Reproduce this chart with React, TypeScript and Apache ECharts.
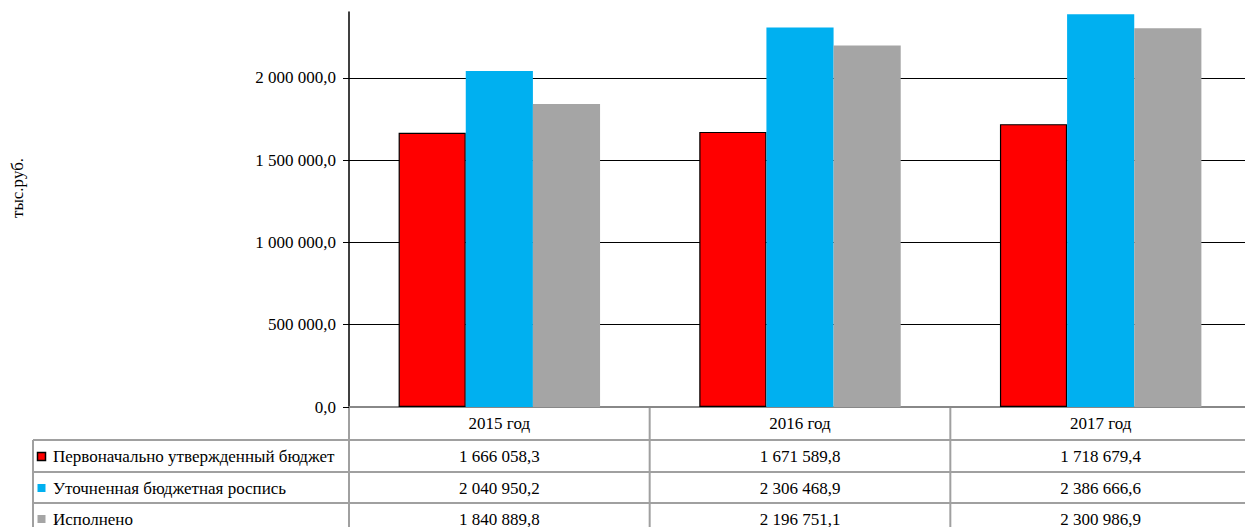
import React, { useEffect, useRef } from "react";
import * as echarts from "echarts";

const categories = ["2015 год", "2016 год", "2017 год"];
const seriesNames = [
  "Первоначально утвержденный бюджет",
  "Уточненная бюджетная роспись",
  "Исполнено",
];
const initialBudget = [1666058.3, 1671589.8, 1718679.4];
const refinedBudget = [2040950.2, 2306468.9, 2386666.6];
const executed = [1840889.8, 2196751.1, 2300986.9];
const yTicks = { min: 0, max: 2400000, interval: 500000 };
const yName = "тыс.руб.";

const seriesData = [initialBudget, refinedBudget, executed];
const colors = ["#FF0000", "#00B0F0", "#A5A5A5"];

const FONT = "Liberation Serif";
const FS = 17;

function fmt(v: number): string {
  const [i, d] = v.toFixed(1).split(".");
  return i.replace(/\B(?=(\d{3})+(?!\d))/g, " ") + "," + d;
}

export default function App() {
  const ref = useRef<HTMLDivElement>(null);
  useEffect(() => {
    if (!ref.current) return;
    const el = ref.current;

    const styleEl = document.createElement("style");
    styleEl.textContent =
      '#chart-root svg text { font-family: "Liberation Serif", "Times New Roman", serif !important; }';
    document.head.appendChild(styleEl);

    const chart = echarts.init(el, null, { renderer: "svg" });
    const option: any = {
      animation: false,
      grid: {
        left: 349,
        right: -6,
        top: 12,
        bottom: 120,
        containLabel: false,
        outerBoundsMode: "none",
      },
      xAxis: {
        type: "category",
        data: categories,
        axisLine: { show: true, lineStyle: { color: "#888", width: 2 } },
        axisTick: { show: false },
        axisLabel: {
          color: "#000",
          fontFamily: FONT,
          fontSize: FS,
          margin: 8,
        },
      },
      yAxis: {
        type: "value",
        min: yTicks.min,
        max: yTicks.max,
        interval: yTicks.interval,
        axisLine: { show: true, lineStyle: { color: "#000", width: 1.5 } },
        axisTick: { show: true, length: 6, lineStyle: { color: "#000" } },
        axisLabel: {
          color: "#000",
          fontFamily: FONT,
          fontSize: FS,
          margin: 13,
          showMaxLabel: false,
          formatter: (v: number) => (v >= yTicks.max ? "" : fmt(v)),
        },
        splitLine: {
          show: true,
          showMaxLine: false,
          lineStyle: { color: "#000", width: 1 },
        },
      },
      series: seriesNames.map((name, k) => ({
        name,
        type: "bar",
        data: seriesData[k],
        barGap: "0%",
        barCategoryGap: "33%",
        itemStyle: {
          color: colors[k],
          borderColor: k === 0 ? "#000" : colors[k],
          borderWidth: k === 0 ? 1.2 : 0,
        },
      })),
    };
    chart.setOption(option);

    const x0 = chart.convertToPixel({ xAxisIndex: 0 }, categories[0]) as number;
    const x1 = chart.convertToPixel({ xAxisIndex: 0 }, categories[1]) as number;
    const band = x1 - x0;
    const yBase = chart.convertToPixel({ yAxisIndex: 0 }, 0) as number;
    const yTop = chart.convertToPixel({ yAxisIndex: 0 }, yTicks.max) as number;
    const axisX = x0 - band / 2;
    const rowLines = [440, 472, 503];
    const rowCenters = [456.5, 488, 519];
    const lineColor = "#A0A0A0";
    const bottom = 540;
    const tableLeft = 33;

    const g: any[] = [];
    g.push({
      type: "line",
      shape: { x1: axisX + 1, y1: yTop, x2: 1260, y2: yTop },
      style: { stroke: "#fff", lineWidth: 2 },
      z: 1,
    });
    for (let i = 0; i <= categories.length; i++) {
      const x = axisX + i * band;
      g.push({
        type: "line",
        shape: { x1: x, y1: yBase, x2: x, y2: bottom },
        style: { stroke: lineColor, lineWidth: 2 },
      });
    }
    g.push({
      type: "line",
      shape: { x1: tableLeft, y1: rowLines[0], x2: tableLeft, y2: bottom },
      style: { stroke: lineColor, lineWidth: 2 },
    });
    rowLines.forEach((y) =>
      g.push({
        type: "line",
        shape: { x1: tableLeft, y1: y, x2: 1260, y2: y },
        style: { stroke: lineColor, lineWidth: 2 },
      })
    );
    g.push({
      type: "text",
      x: 17,
      y: 188,
      rotation: Math.PI / 2,
      style: {
        text: yName,
        fontFamily: FONT,
        fontSize: FS,
        fill: "#000",
        align: "center",
        verticalAlign: "middle",
      },
    });
    seriesNames.forEach((name, k) => {
      g.push({
        type: "rect",
        shape: { x: 37.5, y: rowCenters[k] - 4, width: 8, height: 8 },
        style: {
          fill: colors[k],
          stroke: k === 0 ? "#000" : null,
          lineWidth: k === 0 ? 1.5 : 0,
        },
      });
      g.push({
        type: "text",
        x: 53,
        y: rowCenters[k],
        style: {
          text: name,
          fontFamily: FONT,
          fontSize: FS,
          fill: "#000",
          align: "left",
          verticalAlign: "middle",
        },
      });
      seriesData[k].forEach((v, i) => {
        g.push({
          type: "text",
          x: x0 + i * band,
          y: rowCenters[k],
          style: {
            text: fmt(v),
            fontFamily: FONT,
            fontSize: FS,
            fill: "#000",
            align: "center",
            verticalAlign: "middle",
          },
        });
      });
    });
    chart.setOption({ graphic: g });

    return () => {
      chart.dispose();
      styleEl.remove();
    };
  }, []);
  return (
    <div
      id="chart-root"
      ref={ref}
      style={{
        position: "absolute",
        left: 0,
        top: 0,
        width: 1245,
        height: 527,
        overflow: "hidden",
        background: "#fff",
        fontFamily: FONT,
      }}
    />
  );
}
